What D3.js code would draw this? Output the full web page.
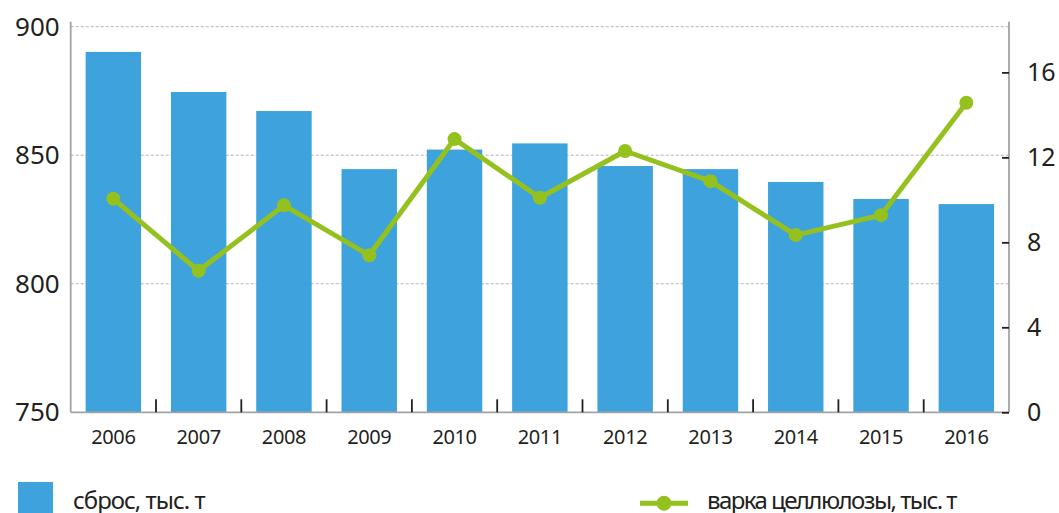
<!DOCTYPE html>
<html>
<head>
<meta charset="utf-8">
<script src="https://cdn.jsdelivr.net/npm/d3@7"></script>
<style>
  body { margin: 0; background: #fff; }
  text { font-family: "Noto Sans", sans-serif; fill: #231f20; }
</style>
</head>
<body>
<script>

var years = ["2006","2007","2008","2009","2010","2011","2012","2013","2014","2015","2016"];
// сброс, тыс. т (left axis)
var discharge = [890.2, 874.6, 867.2, 844.6, 852.2, 854.6, 845.8, 844.6, 839.6, 833.0, 831.0];
// варка целлюлозы, тыс. т (right axis)
var cooking = [10.05, 6.66, 9.74, 7.39, 12.86, 10.1, 12.3, 10.88, 8.34, 9.28, 14.57];
var leftTicks = [750, 800, 850, 900];
var rightTicks = [0, 4, 8, 12, 16];
var gridTicks = [800, 850, 900];
var legendBar = "сброс, тыс. т";
var legendLine = "варка целлюлозы, тыс. т";

var width = 1059, height = 513;
// note: "top" is taken by window.top, so plot edges get their own names
var plotLeft = 70.7, plotRight = 1009, plotTop = 26.7, plotBottom = 412.3;
var blue = "#3ea3dc", green = "#95c11f", axisGray = "#a3a3a3";

var svg = d3.select("body").append("svg")
    .attr("width", width)
    .attr("height", height);

var x = d3.scaleBand().domain(years).range([plotLeft, plotRight]).padding(0);
var xBar = d3.scaleBand().domain(years).range([plotLeft, plotRight])
    .paddingInner(0.35).paddingOuter(0.175);
var yL = d3.scaleLinear().domain([750, 900]).range([plotBottom, plotTop]);
var yR = d3.scaleLinear().domain([0, 18.15]).range([plotBottom, plotTop]);

// gridlines
svg.append("g").selectAll("line")
    .data(gridTicks)
    .enter().append("line")
    .attr("x1", plotLeft).attr("x2", plotRight)
    .attr("y1", function(d){ return yL(d); })
    .attr("y2", function(d){ return yL(d); })
    .attr("stroke", "#b4b4b4")
    .attr("stroke-width", 1)
    .attr("stroke-dasharray", "3,2");

// bars
svg.append("g").selectAll("rect")
    .data(discharge)
    .enter().append("rect")
    .attr("x", function(d, i){ return xBar(years[i]); })
    .attr("width", xBar.bandwidth())
    .attr("y", function(d){ return yL(d); })
    .attr("height", function(d){ return plotBottom - yL(d); })
    .attr("fill", blue);

// axis lines
svg.append("line").attr("x1", plotLeft).attr("x2", plotLeft).attr("y1", plotTop - 5).attr("y2", plotBottom)
    .attr("stroke", axisGray).attr("stroke-width", 1.8);
svg.append("line").attr("x1", plotRight).attr("x2", plotRight).attr("y1", plotTop - 5).attr("y2", plotBottom)
    .attr("stroke", axisGray).attr("stroke-width", 1.8);
svg.append("line").attr("x1", plotLeft).attr("x2", plotRight).attr("y1", plotBottom).attr("y2", plotBottom)
    .attr("stroke", axisGray).attr("stroke-width", 1.8);

// left axis labels
var gl = svg.append("g")
    .attr("transform", "translate(" + plotLeft + ",0)")
    .call(d3.axisLeft(yL).tickValues(leftTicks).tickSize(0).tickPadding(11));
gl.select(".domain").remove();
gl.selectAll("text").attr("font-size", "26px").attr("font-family", null).attr("fill", "#231f20");

// right axis
var gr = svg.append("g")
    .attr("transform", "translate(" + plotRight + ",0)")
    .call(d3.axisRight(yR).tickValues(rightTicks).tickSize(-7).tickPadding(18));
gr.select(".domain").remove();
gr.selectAll("line").attr("stroke", "#231f20").attr("stroke-width", 1.8);
gr.selectAll("text").attr("font-size", "25px").attr("font-family", null).attr("fill", "#231f20");

// bottom axis
var gb = svg.append("g")
    .attr("transform", "translate(0," + plotBottom + ")")
    .call(d3.axisBottom(x).tickSize(0).tickPadding(17.5));
gb.select(".domain").remove();
gb.selectAll("text").attr("font-size", "20px").attr("font-family", null)
    .attr("letter-spacing", "-0.4px").attr("fill", "#231f20");

// separator ticks between years
svg.append("g").selectAll("line")
    .data(years.slice(1))
    .enter().append("line")
    .attr("x1", function(d){ return x(d); })
    .attr("x2", function(d){ return x(d); })
    .attr("y1", plotBottom - 13).attr("y2", plotBottom)
    .attr("stroke", "#231f20").attr("stroke-width", 1.8);

// line series
var line = d3.line()
    .x(function(d, i){ return x(years[i]) + x.bandwidth() / 2; })
    .y(function(d){ return yR(d); });

svg.append("path")
    .datum(cooking)
    .attr("d", line)
    .attr("fill", "none")
    .attr("stroke", green)
    .attr("stroke-width", 5)
    .attr("stroke-linejoin", "round");

svg.append("g").selectAll("circle")
    .data(cooking)
    .enter().append("circle")
    .attr("cx", function(d, i){ return x(years[i]) + x.bandwidth() / 2; })
    .attr("cy", function(d){ return yR(d); })
    .attr("r", 7)
    .attr("fill", green);

// legend
svg.append("rect")
    .attr("x", 18).attr("y", 482)
    .attr("width", 35).attr("height", 35)
    .attr("fill", blue);
svg.append("text")
    .attr("x", 73).attr("y", 509)
    .attr("font-size", "24px")
    .attr("letter-spacing", "-1px")
    .text(legendBar);

svg.append("line")
    .attr("x1", 640).attr("x2", 688)
    .attr("y1", 503.3).attr("y2", 503.3)
    .attr("stroke", green).attr("stroke-width", 5);
svg.append("circle")
    .attr("cx", 664).attr("cy", 503.3).attr("r", 7.5)
    .attr("fill", green);
svg.append("text")
    .attr("x", 707).attr("y", 509)
    .attr("font-size", "24px")
    .attr("letter-spacing", "-1.55px")
    .text(legendLine);

</script>
</body>
</html>
